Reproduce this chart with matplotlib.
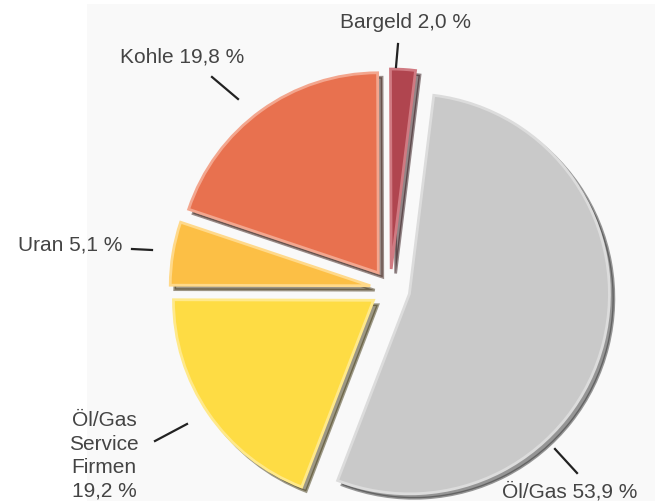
import matplotlib
matplotlib.use("Agg")
import matplotlib.pyplot as plt
from matplotlib.patches import Rectangle

# ---- data ----
names = ["Öl/Gas", "Öl/Gas\nService\nFirmen\n", "Uran", "Kohle", "Bargeld"]
values = [53.9, 19.2, 5.1, 19.8, 2.0]
colors = ["#c9c9c9", "#fedc44", "#fcbf45", "#e8714f", "#b0454f"]
edge_colors = ["#dcdcdc", "#ffe98a", "#ffd98a", "#f3a68e", "#d07a82"]

W, H = 655, 502
fig = plt.figure(figsize=(W / 100, H / 100), dpi=100)
ax = fig.add_axes([0, 0, 1, 1])

# faint background panel
ax.add_patch(Rectangle((87, 0), W - 87, H - 5, facecolor="#f9f9f9",
                       edgecolor="none", zorder=0))

cx, cy, R = 390, 212, 200
wedges, _ = ax.pie(values, colors=colors, startangle=83, counterclock=False,
                   radius=R, center=(cx, cy), explode=[20] * len(values),
                   shadow={"ox": 3.2, "oy": -3.2, "shade": 0.75},
                   wedgeprops=dict(linewidth=2.0))
for w, ec in zip(wedges, edge_colors):
    w.set_edgecolor(ec)

ax.set_xlim(0, W)
ax.set_ylim(0, H)
ax.set_aspect("equal")
ax.axis("off")


def lab(i):
    return f"{names[i]} {values[i]:.1f} %".replace(".", ",").replace("\n ", "\n")


font = dict(family=["Liberation Sans", "DejaVu Sans"], fontsize=15,
            color="#444444")
line_kw = dict(color="#222222", lw=1.6)

# Öl/Gas
ax.text(502, 4, lab(0), ha="left", va="baseline", **font)
ax.plot([555, 577], [H - 450, H - 474], **line_kw)
# Service Firmen
ax.text(104, H - 456, lab(1), ha="center", va="center", linespacing=1.3, **font)
ax.plot([155, 187], [H - 442, H - 425], **line_kw)
# Uran
ax.text(122, H - 245, lab(2), ha="right", va="center", **font)
ax.plot([132, 152], [H - 250, H - 251], **line_kw)
# Kohle
ax.text(182, H - 57, lab(3), ha="center", va="center", **font)
ax.plot([212, 238], [H - 78, H - 100], **line_kw)
# Bargeld
ax.text(405, H - 22, lab(4), ha="center", va="center", **font)
ax.plot([398, 396], [H - 45, H - 68], **line_kw)

fig.savefig("out.png", dpi=100)
